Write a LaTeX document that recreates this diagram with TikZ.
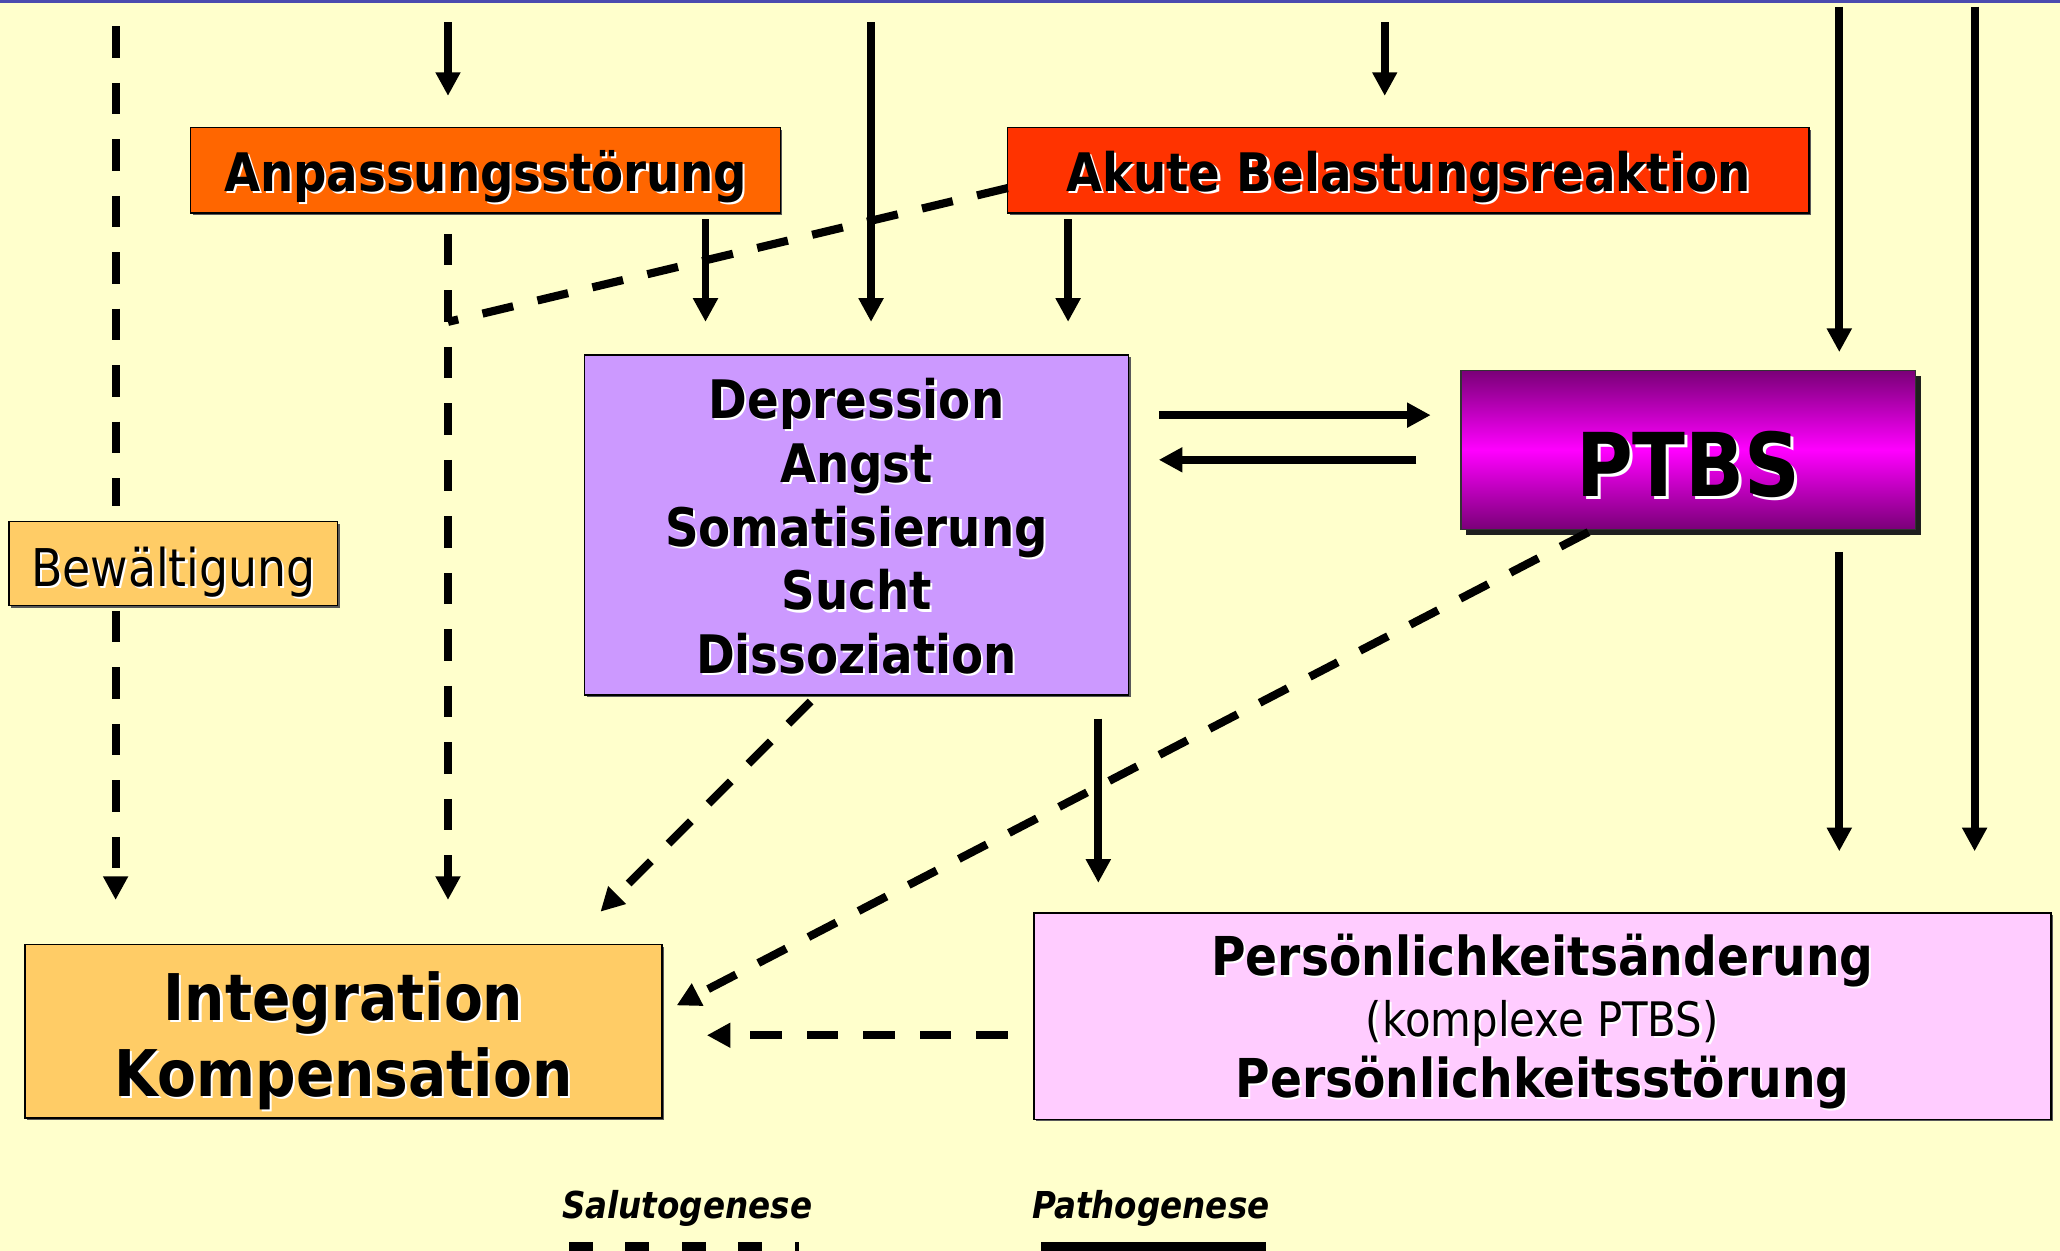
\documentclass[tikz,border=0pt]{standalone}
\usepackage{fontspec}
\setmainfont{DejaVu Sans}[FakeStretch=0.88,
  BoldFont={DejaVu Sans Bold},
  ItalicFont={DejaVu Sans Oblique},
  BoldItalicFont={DejaVu Sans Bold Oblique}]
\usetikzlibrary{arrows.meta,shadows,calc}
\definecolor{bgc}{HTML}{FFFFCC}
\definecolor{anpc}{HTML}{FF6600}
\definecolor{akuc}{HTML}{FF3300}
\definecolor{depc}{HTML}{CC99FF}
\definecolor{ptdark}{HTML}{7A0078}
\definecolor{ptmag}{HTML}{FF00FF}
\definecolor{bewc}{HTML}{FFCC66}
\definecolor{persc}{HTML}{FFCCFF}
\definecolor{topc}{HTML}{4B4BAF}
\newcommand\shd[2][0.8pt]{\leavevmode\rlap{\kern#1\raisebox{-#1}{\color{white}#2}}#2}
\begin{document}
\begin{tikzpicture}[x=0.5pt,y=-0.5pt,
  box/.style={draw=black, line width=0.6pt, inner sep=0pt, outer sep=0pt},
  txt/.style={inner sep=0pt, align=center},
  smallshadow/.style={drop shadow={shadow xshift=0.8pt, shadow yshift=-0.8pt, fill=black!65, opacity=1}},
  bigshadow/.style={drop shadow={shadow xshift=2pt, shadow yshift=-2pt, fill=black!88, opacity=1}},
  hfont/.style={font=\fontsize{20.2pt}{24.25pt}\selectfont\bfseries},
  sarr/.style={line width=3pt, -{Triangle[length=9pt,width=9pt]}},
  dline/.style={line width=3.1pt, dash pattern=on 12pt off 9.5pt},
  darr/.style={dline, -{Triangle[length=9pt,width=9pt]}}]
\useasboundingbox (0,0) rectangle (1568,952);
\fill[bgc] (0,0) rectangle (1568,952);
\draw[topc, line width=1pt] (0,1) -- (1568,1);

% boxes
\node[box, smallshadow, fill=anpc, minimum width=224.5pt, minimum height=32.5pt] (anp) at (369.5,129.5) {};
\node[box, smallshadow, fill=akuc, minimum width=305pt, minimum height=32.5pt] (akut) at (1072,129.5) {};
\node[box, smallshadow, fill=depc, minimum width=207pt, minimum height=129.5pt] (dep) at (652,399.5) {};
\node[box, bigshadow, draw=black!80, top color=ptdark, bottom color=ptdark, middle color=ptmag,
  minimum width=173pt, minimum height=60.5pt] (ptbs) at (1285,342.5) {};
\node[box, smallshadow, fill=bewc, minimum width=125pt, minimum height=32pt] (bew) at (132,429) {};
\node[box, smallshadow, fill=bewc, minimum width=242.5pt, minimum height=66pt] (integ) at (261.5,785) {};
\node[box, smallshadow, fill=persc, minimum width=387pt, minimum height=78.5pt] (pers) at (1174,773.5) {};

% box texts
\node[txt, hfont] (anpt) at ($(anp.center)+(0,6)$) {\shd{Anpassungsstörung}};
\node[txt, hfont] (akutt) at ($(akut.center)+(0,6)$) {\shd{Akute Belastungsreaktion}};
\node[txt, hfont] (dept) at ($(dep.center)+(0,2)$)
  {\shd{Depression}\\\shd{Angst}\\\shd{Somatisierung}\\\shd{Sucht}\\\shd{Dissoziation}};
\node[txt, font=\fontsize{33.5pt}{38pt}\selectfont\bfseries] (ptbst) at ($(ptbs.center)+(0,12)$) {\shd[1.2pt]{PTBS}};
\node[txt, font=\fontsize{19.8pt}{24pt}\selectfont] (bewt) at ($(bew.center)+(0,7)$) {\shd{Bewältigung}};
\node[txt, font=\fontsize{24.5pt}{29pt}\selectfont\bfseries] (integt) at ($(integ.center)+(0,8)$)
  {\shd{Integration}\\\shd{Kompensation}};
\node[txt, font=\fontsize{20.4pt}{23.25pt}\selectfont\bfseries] (perst) at ($(pers.center)+(0,5)$)
  {\shd{Persönlichkeitsänderung}\\{\fontsize{18.1pt}{23.25pt}\selectfont\mdseries\shd{(komplexe PTBS)}}\\\shd{Persönlichkeitsstörung}};

% helper coordinates
\coordinate (top88) at (88,20);
\coordinate (top341) at (341,17);
\coordinate (top663) at (663,17);
\coordinate (top1054) at (1054,17);
\coordinate (top1400) at (1400,5);
\coordinate (top1503) at (1503,5);
\coordinate (knee) at (341,245);
\coordinate (x537) at (537,0);
\coordinate (x813) at (813,0);
\coordinate (x836) at (836,0);
\coordinate (x622) at (622,0);
\coordinate (x432) at (432,0);
\coordinate (x1213) at (1213,0);
\coordinate (y316) at (0,316);
\coordinate (y350) at (0,350);
\coordinate (y771) at (0,771);
\coordinate (y788) at (0,788);

% connectors
\draw[dline, shorten >=6pt] (top88) -- (top88 |- bew.north);
\draw[darr, shorten <=2pt, shorten >=17pt] (top88 |- bew.south) -- (top88 |- integ.north);
\draw[sarr, shorten >=12pt] (top341) -- (top341 |- anp.north);
\draw[darr, shorten <=8pt, shorten >=17pt] (top341 |- anp.south) -- (top341 |- integ.north);
\draw[dline] ($(akut.south west)!0.29!(akut.north west)$) -- (knee);
\draw[sarr, shorten <=2.5pt, shorten >=12.5pt] (x537 |- anp.south) -- (x537 |- dep.north);
\draw[sarr, shorten >=12.5pt] (top663) -- (top663 |- dep.north);
\draw[sarr, shorten >=12pt] (top1054) -- (top1054 |- akut.north);
\draw[sarr, shorten <=2.5pt, shorten >=12.5pt] (x813 |- akut.south) -- (x813 |- dep.north);
\draw[sarr, shorten >=7pt] (top1400) -- (top1400 |- ptbs.north);
\draw[sarr, shorten >=23.5pt] (top1503) -- (top1503 |- pers.north);
\draw[sarr, shorten <=8.5pt, shorten >=23.5pt] (top1400 |- ptbs.south) -- (top1400 |- pers.north);
\draw[sarr, shorten <=9pt, shorten >=11.5pt] (x836 |- dep.south) -- (x836 |- pers.north);
\draw[sarr, shorten <=11.5pt, shorten >=11.5pt] (dep.east |- y316) -- (ptbs.west |- y316);
\draw[sarr, shorten <=17pt, shorten >=11.5pt] (ptbs.west |- y350) -- (dep.east |- y350);
\draw[darr, shorten <=3.5pt, shorten >=17.7pt] (x622 |- dep.south) -- (x432 |- integ.north);
\draw[darr, shorten <=2.2pt, shorten >=6.2pt] (x1213 |- ptbs.south) -- (integ.east |- y771);
\draw[darr, shorten <=10pt, shorten >=17pt] (pers.west |- y788) -- (integ.east |- y788);

% legend
\node[font=\fontsize{14.1pt}{17pt}\selectfont\bfseries\itshape] (salu) at (523,920) {Salutogenese};
\node[font=\fontsize{14.1pt}{17pt}\selectfont\bfseries\itshape] (patho) at (876,920) {Pathogenese};
\fill (433,945) rectangle (451,952);
\fill (476,945) rectangle (494,952);
\fill (519,945) rectangle (537,952);
\fill (562,945) rectangle (580,952);
\fill (605,945) rectangle (608,952);
\fill (792,945) rectangle (964,952);
\end{tikzpicture}
\end{document}
